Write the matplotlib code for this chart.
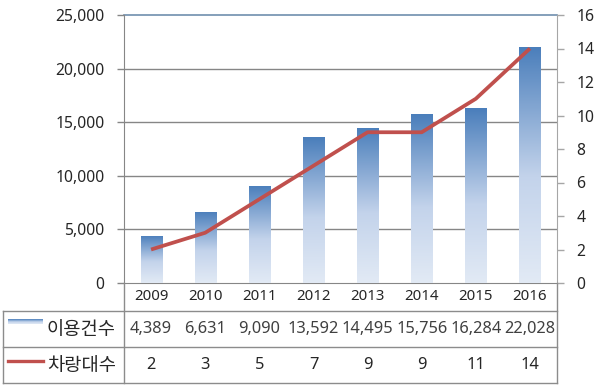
import numpy as np
import matplotlib.pyplot as plt
from matplotlib.colors import LinearSegmentedColormap
from matplotlib.lines import Line2D
import matplotlib.transforms as mtransforms

years = ['2009', '2010', '2011', '2012', '2013', '2014', '2015', '2016']
uses = [4389, 6631, 9090, 13592, 14495, 15756, 16284, 22028]
cars = [2, 3, 5, 7, 9, 9, 11, 14]
use_label = '이용건수'
car_label = '차랑대수'

plt.rcParams['font.family'] = ['Noto Sans', 'Noto Sans CJK KR', 'DejaVu Sans']
txt_color = '#262626'
grid_color = '#868686'
red = '#C0504D'
grad = LinearSegmentedColormap.from_list(
    'g', [(0.0, '#E2EAF5'), (0.45, '#C3D3EB'), (1.0, '#4A7EBB')])

W, H = 600, 386
fig = plt.figure(figsize=(6, 3.86), dpi=100)
# plot area in pixels
L, R, T, B = 124, 557, 15, 283
ax = fig.add_axes([L / W, 1 - B / H, (R - L) / W, (B - T) / H])
x = np.arange(len(years))

bars = ax.bar(x, uses, width=0.39, facecolor='none', edgecolor='none', zorder=3)
gimg = np.linspace(0, 1, 256).reshape(-1, 1)
for b in bars:
    im = ax.imshow(gimg, cmap=grad, origin='lower', aspect='auto',
                   extent=(b.get_x(), b.get_x() + b.get_width(), 0, b.get_height()),
                   zorder=3)
    im.set_clip_path(b)
ax.set_xlim(-0.5, len(years) - 0.5)
ax.set_ylim(0, 25000)

ax.set_yticks(np.arange(0, 25001, 5000))
ax.set_yticklabels([f'{v:,}' for v in range(0, 25001, 5000)])
for v in range(5000, 25000, 5000):
    ax.axhline(v, color=grid_color, lw=1.0, zorder=1)
ax.axhline(25000, color='#6F8FAE', lw=1.2, zorder=1, clip_on=False)
ax.set_xticks([])
for s in ['top', 'right']:
    ax.spines[s].set_visible(False)
ax.spines['left'].set_color(grid_color)
ax.spines['bottom'].set_color(grid_color)
ax.tick_params(axis='y', colors=grid_color, labelcolor=txt_color, labelsize=11.3,
               length=5, pad=9, width=1)

ax2 = ax.twinx()
ax2.set_ylim(0, 16)
ax2.set_yticks(np.arange(0, 17, 2))
ax2.plot(x, cars, color=red, lw=2.7, zorder=5, solid_capstyle='butt')
for s in ['top', 'left', 'bottom']:
    ax2.spines[s].set_visible(False)
ax2.spines['right'].set_color('#A6A6A6')
ax2.tick_params(axis='y', colors='#A6A6A6', labelcolor=txt_color, labelsize=11.3,
                length=5, pad=9, width=1)

# data table below the plot
def fy(py):
    return 1 - py / H

tr = mtransforms.blended_transform_factory(ax.transData, fig.transFigure)
line_kw = dict(color='#8C8C8C', lw=1.0, transform=fig.transFigure)
for py in [311, 347, 383]:
    fig.add_artist(Line2D([3 / W, R / W], [fy(py), fy(py)], **line_kw))
fig.add_artist(Line2D([3 / W, 3 / W], [fy(311), fy(383)], **line_kw))
fig.add_artist(Line2D([L / W, L / W], [fy(283), fy(383)], **line_kw))
fig.add_artist(Line2D([R / W, R / W], [fy(283), fy(383)], **line_kw))

for i in range(len(years)):
    fig.text(x[i], fy(297), years[i], transform=tr, ha='center', va='center',
             fontsize=10.8, color=txt_color)
    fig.text(x[i], fy(329), f'{uses[i]:,}', transform=tr, ha='center', va='center',
             fontsize=11.8, color='#404040')
    fig.text(x[i], fy(365), str(cars[i]), transform=tr, ha='center', va='center',
             fontsize=11.8, color=txt_color)

# legend keys in the row headers
kax = fig.add_axes([8 / W, fy(324), 35 / W, 5 / H])
kax.imshow(gimg, cmap=grad, aspect='auto', origin='lower', extent=(0, 1, 0, 1))
kax.axis('off')
fig.add_artist(Line2D([8 / W, 43 / W], [fy(361), fy(361)], color=red, lw=2.4,
                      transform=fig.transFigure))
fig.text(47 / W, fy(330), use_label, ha='left', va='center', fontsize=13.5, color=txt_color)
fig.text(47 / W, fy(366), car_label, ha='left', va='center', fontsize=13.5, color=txt_color)

fig.savefig('out.png', dpi=100)
